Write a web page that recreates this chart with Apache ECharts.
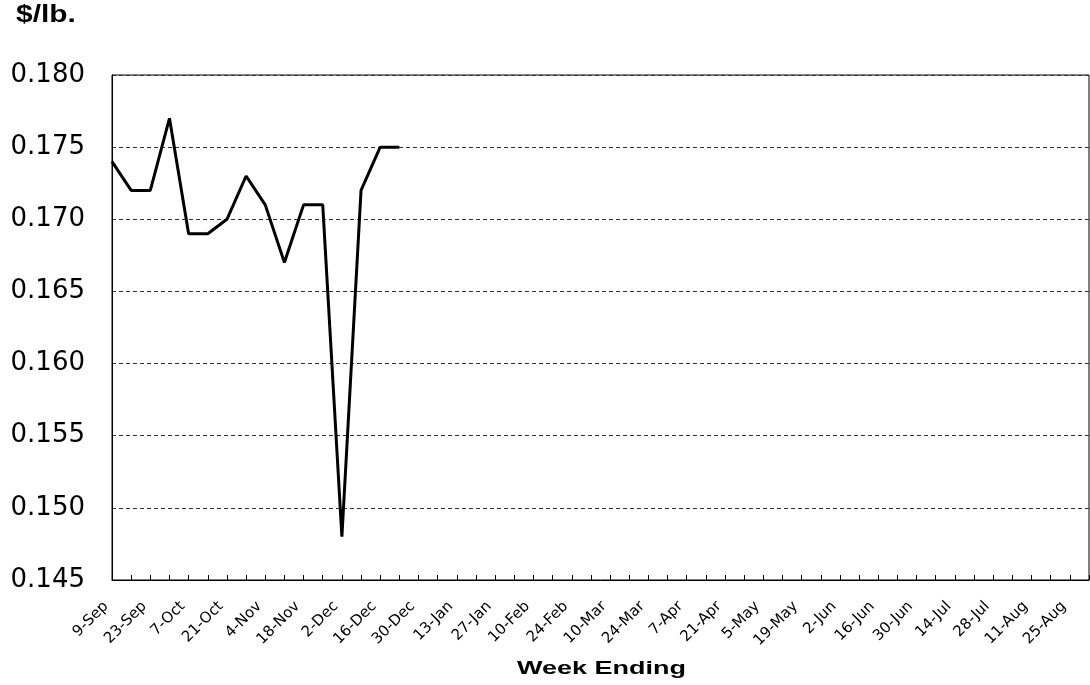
<!DOCTYPE html>
<html><head><meta charset="utf-8">
<script src="https://cdn.jsdelivr.net/npm/echarts@6/dist/echarts.min.js"></script>
<style>html,body{margin:0;padding:0;background:#fff}#c{width:1090px;height:685px}</style>
</head><body><div id="c"></div>
<script>
const weeks = ["9-Sep","16-Sep","23-Sep","30-Sep","7-Oct","14-Oct","21-Oct","28-Oct","4-Nov","11-Nov","18-Nov","25-Nov","2-Dec","9-Dec","16-Dec","23-Dec","30-Dec","6-Jan","13-Jan","20-Jan","27-Jan","3-Feb","10-Feb","17-Feb","24-Feb","3-Mar","10-Mar","17-Mar","24-Mar","31-Mar","7-Apr","14-Apr","21-Apr","28-Apr","5-May","12-May","19-May","26-May","2-Jun","9-Jun","16-Jun","23-Jun","30-Jun","7-Jul","14-Jul","21-Jul","28-Jul","4-Aug","11-Aug","18-Aug","25-Aug","1-Sep"];
const prices = [0.174,0.172,0.172,0.177,0.169,0.169,0.170,0.173,0.171,0.167,0.171,0.171,0.148,0.172,0.175,0.175];
const yTicks = {min:0.145, max:0.180, step:0.005};
const chart = echarts.init(document.getElementById('c'), null, {renderer:'canvas'});
const titles = [
  {id:'ytitle', type:'text', x:16, y:4, scaleX:1.3, style:{text:'$/lb.', font:'bold 23px Liberation Sans, Arial', fill:'#000'}},
  {id:'xtitle', type:'text', x:517, y:659, scaleX:1.42, style:{text:'Week Ending', font:'bold 19px Liberation Sans, Arial', fill:'#000'}}
];
chart.setOption({
  animation:false,
  backgroundColor:'#fff',
  textStyle:{fontFamily:'DejaVu Sans, sans-serif'},
  grid:{left:112, top:75, right:1, bottom:105, show:true, borderColor:'#000', borderWidth:1},
  graphic:titles,
  xAxis:{type:'category', data:weeks, boundaryGap:false,
    axisLine:{lineStyle:{color:'#000', width:1}},
    axisTick:{show:true, inside:true, length:5, interval:0, lineStyle:{color:'#000'}},
    axisLabel:{show:false},
    splitLine:{show:false}},
  yAxis:{type:'value', min:yTicks.min, max:yTicks.max, interval:yTicks.step,
    axisLine:{show:true, lineStyle:{color:'#000'}},
    axisTick:{show:false},
    axisLabel:{fontSize:26, color:'#000', margin:27, formatter:v=>v.toFixed(3), fontFamily:'DejaVu Sans'},
    splitLine:{show:true, lineStyle:{color:'#333', type:[4,3], width:1}}},
  series:[{type:'line', data:prices, symbol:'none', lineStyle:{color:'#000', width:3}}]
});
// rotated week labels (every second week) placed at the library's own category positions
const yBase = chart.convertToPixel({yAxisIndex:0}, yTicks.min);
const labelGraphics = [];
weeks.forEach((w, i) => {
  if (i % 2 !== 0) return;
  const px = chart.convertToPixel({xAxisIndex:0}, i);
  labelGraphics.push({id:'xl' + i, type:'text', x:px - 6, y:yBase + 24, rotation:Math.PI / 4,
    style:{text:w, font:'15px DejaVu Sans', fill:'#000', align:'right', verticalAlign:'middle'}});
});
chart.setOption({graphic: titles.concat(labelGraphics)});
</script></body></html>
